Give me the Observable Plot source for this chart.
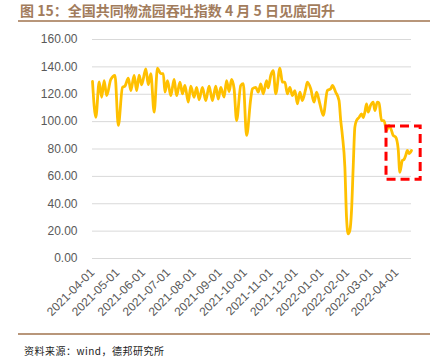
<!DOCTYPE html>
<html>
<head>
<meta charset="utf-8">
<script src="https://cdn.jsdelivr.net/npm/d3@7"></script>
<script src="https://cdn.jsdelivr.net/npm/@observablehq/plot@0.6"></script>
<style>
  html, body { margin: 0; padding: 0; background: #fff; }
  #wrap { position: relative; width: 445px; height: 362px; overflow: hidden; }
  #title { position: absolute; left: 20px; top: 3px; font-family: "Noto Sans CJK SC", sans-serif; font-weight: bold; font-size: 14px; line-height: 14px; color: #a27c5c; white-space: nowrap; }
  .rule { position: absolute; left: 18px; width: 412px; height: 2px; background: #b8967a; }
  #caption { position: absolute; left: 24px; top: 345px; font-family: "Noto Sans CJK SC", sans-serif; font-size: 10px; line-height: 12px; color: #222; letter-spacing: 0.5px; white-space: nowrap; }
  #chart { position: absolute; left: 0; top: 22px; }
</style>
</head>
<body>
<div id="wrap">
  <div id="title">图 15：全国共同物流园吞吐指数 4 月 5 日见底回升</div>
  <div class="rule" style="top:20px"></div>
  <div id="chart"></div>
  <div class="rule" style="top:333px"></div>
  <div id="caption">资料来源：wind，德邦研究所</div>
</div>
<script>
const dates = [
  "2021-04-01","2021-04-05","2021-04-09","2021-04-12","2021-04-15","2021-04-18","2021-04-23","2021-04-28",
  "2021-05-02","2021-05-07","2021-05-10","2021-05-14","2021-05-17","2021-05-21","2021-05-24","2021-05-27","2021-05-30",
  "2021-06-04","2021-06-07","2021-06-10","2021-06-14","2021-06-18","2021-06-22","2021-06-25","2021-06-27","2021-06-30",
  "2021-07-04","2021-07-08","2021-07-11","2021-07-15","2021-07-18","2021-07-21","2021-07-25","2021-07-28",
  "2021-08-01","2021-08-04","2021-08-07","2021-08-11","2021-08-15","2021-08-19","2021-08-23","2021-08-27","2021-08-30",
  "2021-09-02","2021-09-06","2021-09-09","2021-09-12","2021-09-15","2021-09-18","2021-09-21","2021-09-26","2021-09-29",
  "2021-10-03","2021-10-08","2021-10-10","2021-10-14","2021-10-17","2021-10-20","2021-10-23","2021-10-27","2021-10-29",
  "2021-11-01","2021-11-04","2021-11-07","2021-11-12","2021-11-15","2021-11-18","2021-11-21","2021-11-24","2021-11-27","2021-11-30",
  "2021-12-03","2021-12-06","2021-12-09","2021-12-13","2021-12-15","2021-12-19","2021-12-23","2021-12-26","2021-12-30",
  "2022-01-03","2022-01-08","2022-01-12","2022-01-14","2022-01-18","2022-01-22","2022-01-24","2022-01-26","2022-01-29","2022-01-31",
  "2022-02-02","2022-02-04","2022-02-06","2022-02-08","2022-02-10","2022-02-12","2022-02-15","2022-02-18","2022-02-20","2022-02-22","2022-02-24","2022-02-26",
  "2022-03-01","2022-03-04","2022-03-06","2022-03-09","2022-03-11","2022-03-14","2022-03-17","2022-03-20","2022-03-23","2022-03-26","2022-03-28","2022-03-31",
  "2022-04-03","2022-04-05","2022-04-08","2022-04-10","2022-04-12","2022-04-14","2022-04-16","2022-04-19"
];
const values = [
  129.3,103.2,129.0,117.8,130.0,119.0,130.8,133.7,
  97.2,125.0,126.0,131.7,122.7,133.7,122.7,134.0,126.9,
  138.6,127.0,135.0,106.9,139.0,135.0,135.0,121.5,130.0,
  119.0,130.8,119.0,128.8,120.3,126.4,114.2,126.0,
  117.8,125.0,116.0,125.0,115.4,126.0,115.4,126.0,116.5,
  125.0,118.0,130.0,122.0,130.8,124.0,100.8,126.4,127.7,
  89.9,116.7,124.0,125.0,121.5,127.6,120.3,130.0,124.6,
  133.7,137.3,120.3,139.0,128.8,128.8,120.3,125.0,119.0,122.7,
  113.0,121.5,115.4,124.0,128.8,124.0,114.2,121.5,113.0,
  104.5,122.7,124.0,126.4,121.5,115.4,101.0,90.0,66.7,30.0,
  18.0,20.5,35.0,66.7,96.0,100.8,103.0,105.7,103.0,107.0,113.0,107.0,
  112.0,114.2,108.0,114.2,113.6,100.8,100.8,93.5,97.2,93.5,89.9,88.7,
  80.1,63.0,71.6,72.3,75.2,78.9,76.7,78.9
];
const yTicks = [0, 20, 40, 60, 80, 100, 120, 140, 160];
const xTicks = ["2021-04-01","2021-05-01","2021-06-01","2021-07-01","2021-08-01","2021-09-01","2021-10-01","2021-11-01","2021-12-01","2022-01-01","2022-02-01","2022-03-01","2022-04-01"];
const highlight = [{x1: "2022-03-20", x2: "2022-04-30", y1: 57.5, y2: 96.4}];

const parse = d3.utcParse("%Y-%m-%d");
const data = dates.map((d, i) => ({date: parse(d), value: values[i]}));
const box = highlight.map(b => ({x1: parse(b.x1), x2: parse(b.x2), y1: b.y1, y2: b.y2}));

const chart = Plot.plot({
  width: 445,
  height: 310,
  marginLeft: 92,
  marginRight: 34,
  marginTop: 17,
  marginBottom: 74,
  style: {fontFamily: "'Liberation Sans', Arial, sans-serif", fontSize: "12px", color: "#595959", background: "transparent"},
  x: {type: "utc", domain: [data[0].date, data[data.length - 1].date]},
  y: {domain: [0, 160]},
  marks: [
    Plot.gridY(yTicks, {stroke: "#d9d9d9", strokeOpacity: 1, strokeWidth: 1}),
    Plot.axisY(yTicks, {tickSize: 0, tickPadding: 15, tickFormat: d3.format(".2f"), label: null, fill: "#595959", fontSize: 12}),
    Plot.axisX(xTicks.map(parse), {tickSize: 0, tickPadding: 12, tickRotate: -45, tickFormat: d3.utcFormat("%Y-%m-%d"), label: null, fill: "#595959", fontSize: 12}),
    Plot.line(data, {x: "date", y: "value", stroke: "#ffc000", strokeWidth: 2.8, curve: "monotone-x"}),
    Plot.rect(box, {x1: "x1", x2: "x2", y1: "y1", y2: "y2", fill: "none", stroke: "#ff0000", strokeWidth: 3, strokeDasharray: "9,5", clip: false})
  ]
});
document.getElementById("chart").appendChild(chart);
</script>
</body>
</html>
